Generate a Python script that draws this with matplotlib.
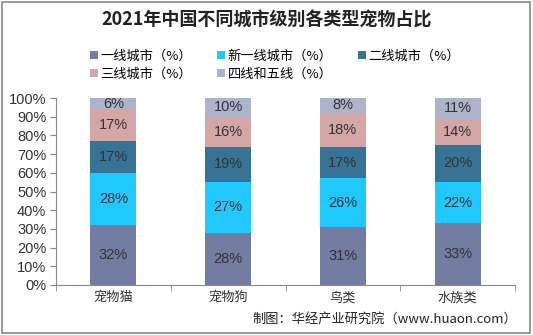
import numpy as np
import matplotlib
matplotlib.use("Agg")
import matplotlib.pyplot as plt
from matplotlib.patches import Rectangle

plt.rcParams['font.family'] = ['Liberation Sans', 'Noto Sans CJK SC', 'DejaVu Sans']

# 数据
categories = ["宠物猫", "宠物狗", "鸟类", "水族类"]
series_names = ["一线城市（%）", "新一线城市（%）", "二线城市（%）", "三线城市（%）", "四线和五线（%）"]
tier1 = [32, 28, 31, 33]
new_tier1 = [28, 27, 26, 22]
tier2 = [17, 19, 17, 20]
tier3 = [17, 16, 18, 14]
tier45 = [6, 10, 8, 11]
colors = ["#737CA1", "#1FC8FF", "#377394", "#D4A6A6", "#ADB3CB"]

series = [tier1, new_tier1, tier2, tier3, tier45]

fig = plt.figure(figsize=(5.33, 3.35), dpi=100)
fig.patches.append(Rectangle((0.004, 0.006), 0.99, 0.988, transform=fig.transFigure,
                             fill=False, edgecolor="#888888", linewidth=1.2))
ax = fig.add_axes([56 / 533, 1 - 285 / 335, (515 - 56) / 533, (285 - 98) / 335])

x = np.arange(len(categories))
bottom = np.zeros(len(categories))
for vals, name, c in zip(series, series_names, colors):
    vals = np.array(vals, dtype=float)
    ax.bar(x, vals, 0.4, bottom=bottom, color=c, label=name)
    for xi, b, v in zip(x, bottom, vals):
        ax.text(xi, b + v / 2, f"{int(v)}%", ha="center", va="center",
                fontsize=10.5, color="#333333")
    bottom += vals

ax.set_xlim(-0.5, len(categories) - 0.5)
ax.set_ylim(0, 100)
ax.set_yticks(range(0, 101, 10))
ax.set_yticklabels([f"{v}%" for v in range(0, 101, 10)], fontsize=10.5, color="#333333")
ax.set_xticks(x)
ax.set_xticklabels(categories, fontsize=9.5, color="#333333")
ax.set_xticks(np.arange(-0.5, len(categories)), minor=True)
ax.tick_params(axis="x", which="major", length=0, pad=5)
ax.tick_params(axis="x", which="minor", length=4, color="#888888")
ax.tick_params(axis="y", length=4, color="#888888", pad=3)
for s in ["top", "right"]:
    ax.spines[s].set_visible(False)
for s in ["left", "bottom"]:
    ax.spines[s].set_color("#888888")

fig.text(0.5, 1 - 20 / 335, "2021年中国不同城市级别各类型宠物占比", ha="center", va="center",
         fontsize=13, fontweight="bold", color="#222222",
         family=["Noto Sans CJK SC", "DejaVu Sans"])

# 图例按行排列
handles, labels = ax.get_legend_handles_labels()
order = [0, 3, 1, 4, 2]
fig.legend([handles[i] for i in order], [labels[i] for i in order],
           loc="upper left", bbox_to_anchor=(78 / 533, 1 - 38 / 335),
           ncol=3, frameon=False, handlelength=0.6, handleheight=0.6,
           handletextpad=0.2, columnspacing=1.9, labelspacing=0.35,
           prop={"family": ["Noto Sans CJK SC", "DejaVu Sans"], "size": 9.5})

fig.text(517 / 533, 1 - 319 / 335, "制图：华经产业研究院（www.huaon.com）", ha="right", va="center",
         fontsize=9.5, color="#222222", family=["Noto Sans CJK SC", "DejaVu Sans"])

fig.savefig("out.png", dpi=100)
